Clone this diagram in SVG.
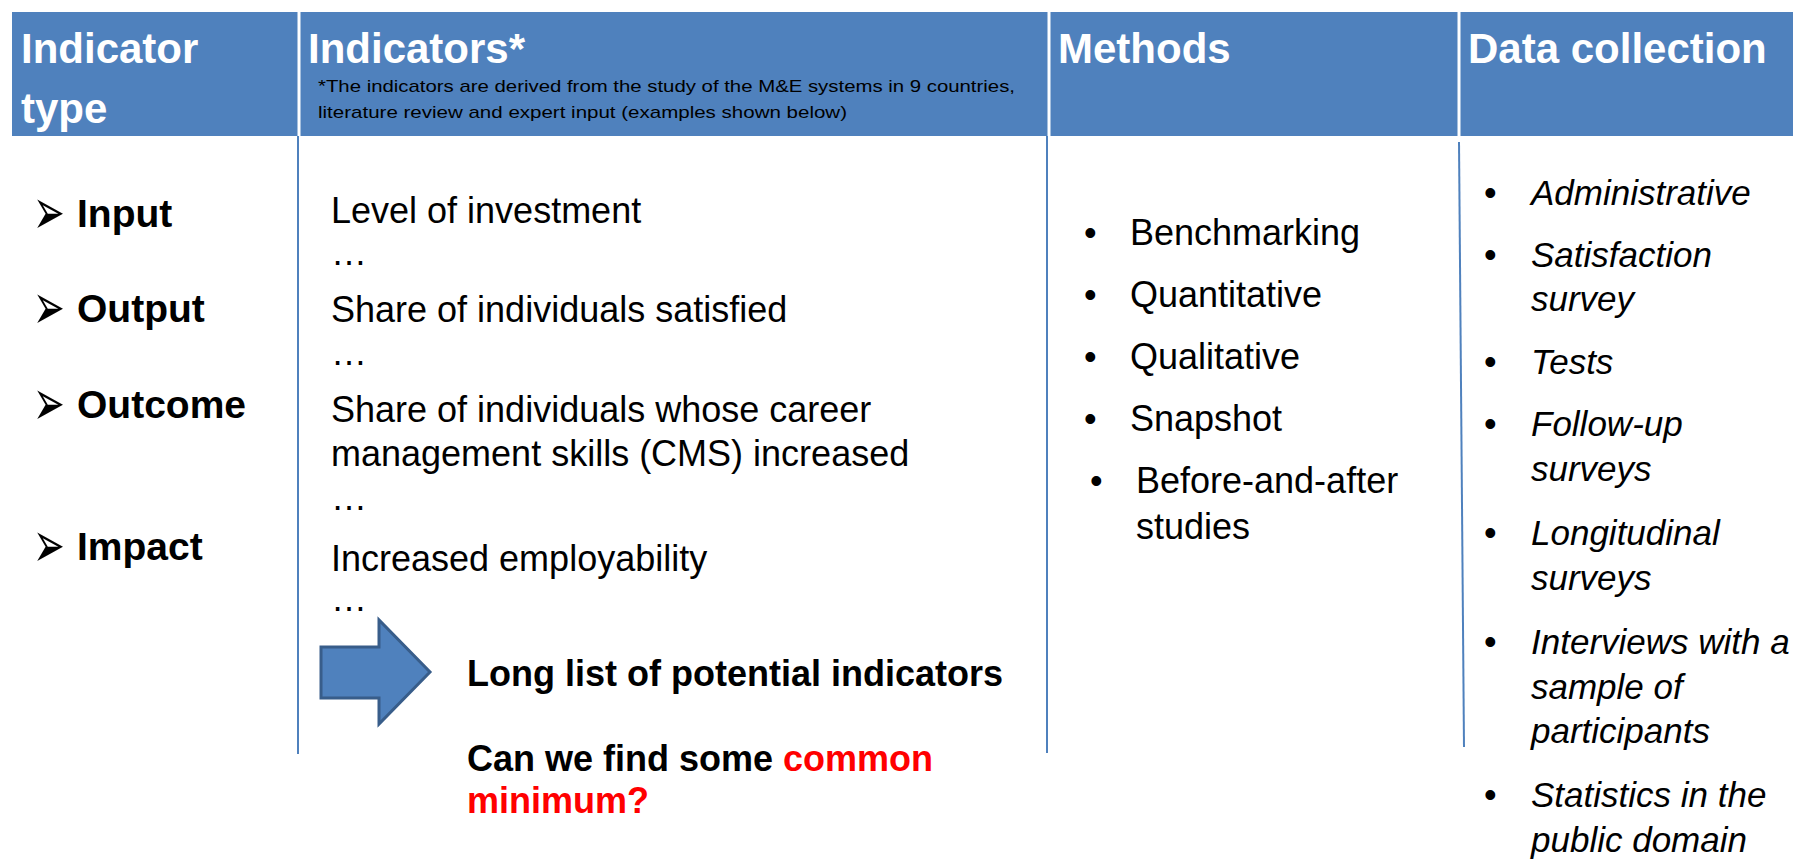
<svg xmlns="http://www.w3.org/2000/svg" width="1799" height="859" viewBox="0 0 1799 859">
  <style>
    .hdr { font-family: "Liberation Sans", Arial, sans-serif; font-weight: bold; font-size: 42px; fill: #ffffff; }
    .note { font-family: "Liberation Sans", Arial, sans-serif; font-size: 17px; fill: #000000; }
    .type { font-family: "Liberation Sans", Arial, sans-serif; font-weight: bold; font-size: 39px; fill: #000000; }
    .bul { font-family: "DejaVu Sans", sans-serif; font-size: 38px; fill: #000000; }
    .ind { font-family: "Liberation Sans", Arial, sans-serif; font-size: 36px; fill: #000000; }
    .meth { font-family: "Liberation Sans", Arial, sans-serif; font-size: 36px; fill: #000000; }
    .data { font-family: "Liberation Sans", Arial, sans-serif; font-size: 35px; font-style: italic; fill: #000000; }
    .dot { font-family: "Liberation Sans", Arial, sans-serif; font-size: 36px; fill: #000000; }
    .big { font-family: "Liberation Sans", Arial, sans-serif; font-weight: bold; font-size: 36px; fill: #000000; }
    .red { fill: #ff0000; }
    .vline { stroke: #4f81bd; stroke-width: 2; fill: none; }
    .wline { stroke: #ffffff; stroke-width: 3; fill: none; }
  </style>

  <!-- header band -->
  <g id="header">
    <rect x="12" y="12" width="1781" height="124" fill="#4f81bd"/>
    <line class="wline" x1="299" y1="12" x2="299" y2="136"/>
    <line class="wline" x1="1049" y1="12" x2="1049" y2="136"/>
    <line class="wline" x1="1459" y1="12" x2="1459" y2="136"/>
    <text class="hdr" x="21" y="63">Indicator</text>
    <text class="hdr" x="21" y="123">type</text>
    <text class="hdr" x="308" y="63">Indicators*</text>
    <text class="note" x="318" y="92" textLength="697" lengthAdjust="spacingAndGlyphs">*The indicators are derived from the study of the M&amp;E systems in 9 countries,</text>
    <text class="note" x="318" y="118" textLength="529" lengthAdjust="spacingAndGlyphs">literature review and expert input (examples shown below)</text>
    <text class="hdr" x="1058" y="63">Methods</text>
    <text class="hdr" x="1468" y="63">Data collection</text>
  </g>

  <!-- column separators -->
  <g id="connectors">
    <line class="vline" x1="298" y1="136" x2="298" y2="754"/>
    <line class="vline" x1="1047" y1="136" x2="1047" y2="753"/>
    <line class="vline" x1="1459" y1="142" x2="1464" y2="747"/>
  </g>

  <g id="indicator-types">
    <g transform="translate(33,212) scale(1,1.7)"><text class="bul" x="0" y="13">➢</text></g>
    <text class="type" x="77" y="227">Input</text>
    <g transform="translate(33,307) scale(1,1.7)"><text class="bul" x="0" y="13">➢</text></g>
    <text class="type" x="77" y="322">Output</text>
    <g transform="translate(33,403) scale(1,1.7)"><text class="bul" x="0" y="13">➢</text></g>
    <text class="type" x="77" y="418">Outcome</text>
    <g transform="translate(33,545) scale(1,1.7)"><text class="bul" x="0" y="13">➢</text></g>
    <text class="type" x="77" y="560">Impact</text>
  </g>

  <g id="indicators">
    <text class="ind" x="331" y="223">Level of investment</text>
    <text class="dot" x="331" y="265">…</text>
    <text class="ind" x="331" y="322">Share of individuals satisfied</text>
    <text class="dot" x="331" y="365">…</text>
    <text class="ind" x="331" y="422">Share of individuals whose career</text>
    <text class="ind" x="331" y="466">management skills (CMS) increased</text>
    <text class="dot" x="331" y="510">…</text>
    <text class="ind" x="331" y="571">Increased employability</text>
    <text class="dot" x="331" y="611">…</text>
  </g>

  <g id="long-list">
    <polygon points="321,647 379,647 379,620 430,672 379,724 379,698 321,698" fill="#4f81bd" stroke="#385d8a" stroke-width="3" stroke-linejoin="miter"/>
    <text class="big" x="467" y="686">Long list of potential indicators</text>
    <text class="big" x="467" y="771">Can we find some <tspan class="red">common</tspan></text>
    <text class="big red" x="467" y="813">minimum?</text>
  </g>

  <g id="methods">
    <text class="meth" x="1084" y="245">•</text>
    <text class="meth" x="1130" y="245">Benchmarking</text>
    <text class="meth" x="1084" y="307">•</text>
    <text class="meth" x="1130" y="307">Quantitative</text>
    <text class="meth" x="1084" y="369">•</text>
    <text class="meth" x="1130" y="369">Qualitative</text>
    <text class="meth" x="1084" y="431">•</text>
    <text class="meth" x="1130" y="431">Snapshot</text>
    <text class="meth" x="1090" y="493">•</text>
    <text class="meth" x="1136" y="493">Before-and-after</text>
    <text class="meth" x="1136" y="539">studies</text>
  </g>

  <g id="data-collection">
    <text class="meth" x="1484" y="205">•</text>
    <text class="data" x="1531" y="205">Administrative</text>
    <text class="meth" x="1484" y="267">•</text>
    <text class="data" x="1531" y="267">Satisfaction</text>
    <text class="data" x="1531" y="311">survey</text>
    <text class="meth" x="1484" y="374">•</text>
    <text class="data" x="1531" y="374">Tests</text>
    <text class="meth" x="1484" y="436">•</text>
    <text class="data" x="1531" y="436">Follow-up</text>
    <text class="data" x="1531" y="481">surveys</text>
    <text class="meth" x="1484" y="545">•</text>
    <text class="data" x="1531" y="545">Longitudinal</text>
    <text class="data" x="1531" y="590">surveys</text>
    <text class="meth" x="1484" y="654">•</text>
    <text class="data" x="1531" y="654">Interviews with a</text>
    <text class="data" x="1531" y="699">sample of</text>
    <text class="data" x="1531" y="743">participants</text>
    <text class="meth" x="1484" y="807">•</text>
    <text class="data" x="1531" y="807">Statistics in the</text>
    <text class="data" x="1531" y="852">public domain</text>
  </g>
</svg>
